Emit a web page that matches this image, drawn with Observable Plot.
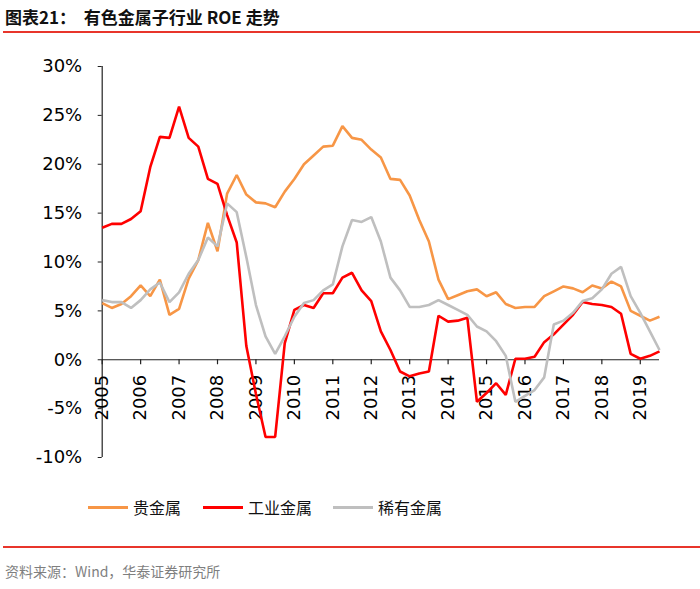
<!DOCTYPE html>
<html>
<head>
<meta charset="utf-8">
<script src="https://cdn.jsdelivr.net/npm/d3@7"></script>
<script src="https://cdn.jsdelivr.net/npm/@observablehq/plot@0.6"></script>
<style>
  html, body { margin: 0; padding: 0; background: #fff; }
  #wrap { position: relative; width: 700px; height: 589px; overflow: hidden; background: #fff; }
  #title { position: absolute; left: 5px; top: 6px; font-family: "Noto Sans CJK SC", "Liberation Sans", sans-serif; font-weight: bold; font-size: 17px; line-height: 22px; color: #111; white-space: pre; }
  .redline { position: absolute; left: 3px; width: 697px; height: 2px; background: #e8352b; }
  #chart { position: absolute; left: 0; top: 34px; }
  .leg-line { position: absolute; height: 3px; }
  .leg-text { position: absolute; font-family: "Noto Sans CJK SC", sans-serif; font-size: 16px; line-height: 20px; color: #111; }
  #source { position: absolute; left: 5px; top: 561px; font-family: "Noto Sans CJK SC", "Liberation Sans", sans-serif; font-size: 14px; line-height: 20px; color: #7f7f7f; }
</style>
</head>
<body>
<div id="wrap">
  <div id="title">图表21：  有色金属子行业 ROE 走势</div>
  <div class="redline" style="top:31px"></div>
  <div id="chart"></div>
  <div id="legend"></div>
  <div class="redline" style="top:546px"></div>
  <div id="source">资料来源：Wind，华泰证券研究所</div>
</div>
<script>
// Quarterly ROE (%), 2005Q1 .. 2019Q3
const startYear = 2005;
const yearTicks = [2005, 2006, 2007, 2008, 2009, 2010, 2011, 2012, 2013, 2014, 2015, 2016, 2017, 2018, 2019];
const yTicks = [-10, -5, 0, 5, 10, 15, 20, 25, 30];
const seriesNames = ["贵金属", "工业金属", "稀有金属"];
const seriesColors = ["#f79646", "#ff0000", "#bfbfbf"];

const preciousMetals = [5.8, 5.3, 5.7, 6.5, 7.6, 6.5, 8.2, 4.6, 5.2, 8.3, 10.2, 14.0, 11.1, 17.0, 18.9, 16.9, 16.1, 16.0, 15.6, 17.2,
  18.5, 20.0, 20.9, 21.8, 21.9, 23.9, 22.7, 22.5, 21.5, 20.7, 18.5, 18.4, 16.8, 14.3, 12.1, 8.2, 6.2, 6.6, 7.0, 7.2,
  6.5, 6.9, 5.7, 5.3, 5.4, 5.4, 6.5, 7.0, 7.5, 7.3, 6.9, 7.6, 7.3, 8.0, 7.5, 5.0, 4.5, 4.0, 4.4];
const industrialMetals = [13.5, 13.9, 13.9, 14.4, 15.2, 19.7, 22.8, 22.7, 25.9, 22.7, 21.8, 18.5, 18.0, 14.8, 12.0, 1.4, -3.5, -7.9, -7.9, 1.7,
  5.1, 5.6, 5.3, 6.8, 6.8, 8.4, 8.9, 7.1, 6.0, 2.9, 1.0, -1.2, -1.7, -1.4, -1.2, 4.5, 3.9, 4.0, 4.3, -4.3,
  -3.4, -2.4, -3.6, 0.1, 0.1, 0.3, 1.8, 2.6, 3.6, 4.6, 5.9, 5.7, 5.6, 5.4, 4.7, 0.6, 0.1, 0.4, 0.85];
const rareMetals = [6.1, 5.9, 5.9, 5.3, 6.1, 7.2, 7.9, 5.9, 6.9, 8.8, 10.2, 12.5, 11.6, 16.0, 15.1, 10.5, 5.6, 2.4, 0.6, 2.4,
  4.4, 5.8, 6.1, 7.1, 7.7, 11.6, 14.3, 14.1, 14.6, 12.1, 8.4, 7.1, 5.4, 5.4, 5.6, 6.1, 5.6, 5.1, 4.6, 3.4,
  2.9, 1.9, 0.4, -4.3, -3.7, -3.1, -1.8, 3.6, 4.0, 4.8, 6.0, 6.3, 7.2, 8.8, 9.5, 6.5, 4.8, 2.9, 1.0];

const allSeries = [preciousMetals, industrialMetals, rareMetals];
const rows = [];
allSeries.forEach((vals, s) => vals.forEach((v, i) => rows.push({t: startYear + i / 4, v, s: seriesNames[s]})));
const tEnd = startYear + (preciousMetals.length - 1) / 4;

const chart = Plot.plot({
  width: 700,
  height: 440,
  marginTop: 32,
  marginBottom: 17,
  marginLeft: 101.7,
  marginRight: 41,
  x: {domain: [startYear, tEnd], axis: null},
  y: {domain: [-10, 30], axis: null},
  color: {domain: seriesNames, range: seriesColors},
  style: {fontFamily: "'DejaVu Sans', sans-serif", fontSize: "18px", background: "white", color: "#000", overflow: "visible"},
  marks: [
    Plot.axisY({ticks: yTicks, tickSize: 4, tickPadding: 16, tickFormat: d => d + "%", fontSize: 18, stroke: "#222", label: null}),
    Plot.ruleX([startYear], {y1: -10, y2: 30, stroke: "#222", strokeWidth: 1.2}),
    Plot.ruleY([0], {x1: startYear, x2: tEnd, stroke: "#222", strokeWidth: 1.2}),
    Plot.ruleX(yearTicks, {x: d => d, y1: 0, y2: 0, insetBottom: -5, stroke: "#222", strokeWidth: 1.2}),
    Plot.text(yearTicks, {x: d => d, y: 0, text: d => String(d), rotate: -90, textAnchor: "end", dy: 15, fontSize: 18, fill: "#000"}),
    Plot.line(rows, {x: "t", y: "v", z: "s", stroke: "s", strokeWidth: 2.6, strokeLinejoin: "miter", strokeLinecap: "butt"})
  ]
});
document.getElementById("chart").appendChild(chart);

// legend
const legendPos = [[88, 133], [203, 248], [333, 378]];
const leg = document.getElementById("legend");
seriesNames.forEach((name, i) => {
  const line = document.createElement("div");
  line.className = "leg-line";
  line.style.left = legendPos[i][0] + "px";
  line.style.width = "40px";
  line.style.top = "506px";
  line.style.background = seriesColors[i];
  leg.appendChild(line);
  const tx = document.createElement("div");
  tx.className = "leg-text";
  tx.style.left = legendPos[i][1] + "px";
  tx.style.top = "497px";
  tx.textContent = name;
  leg.appendChild(tx);
});
</script>
</body>
</html>
